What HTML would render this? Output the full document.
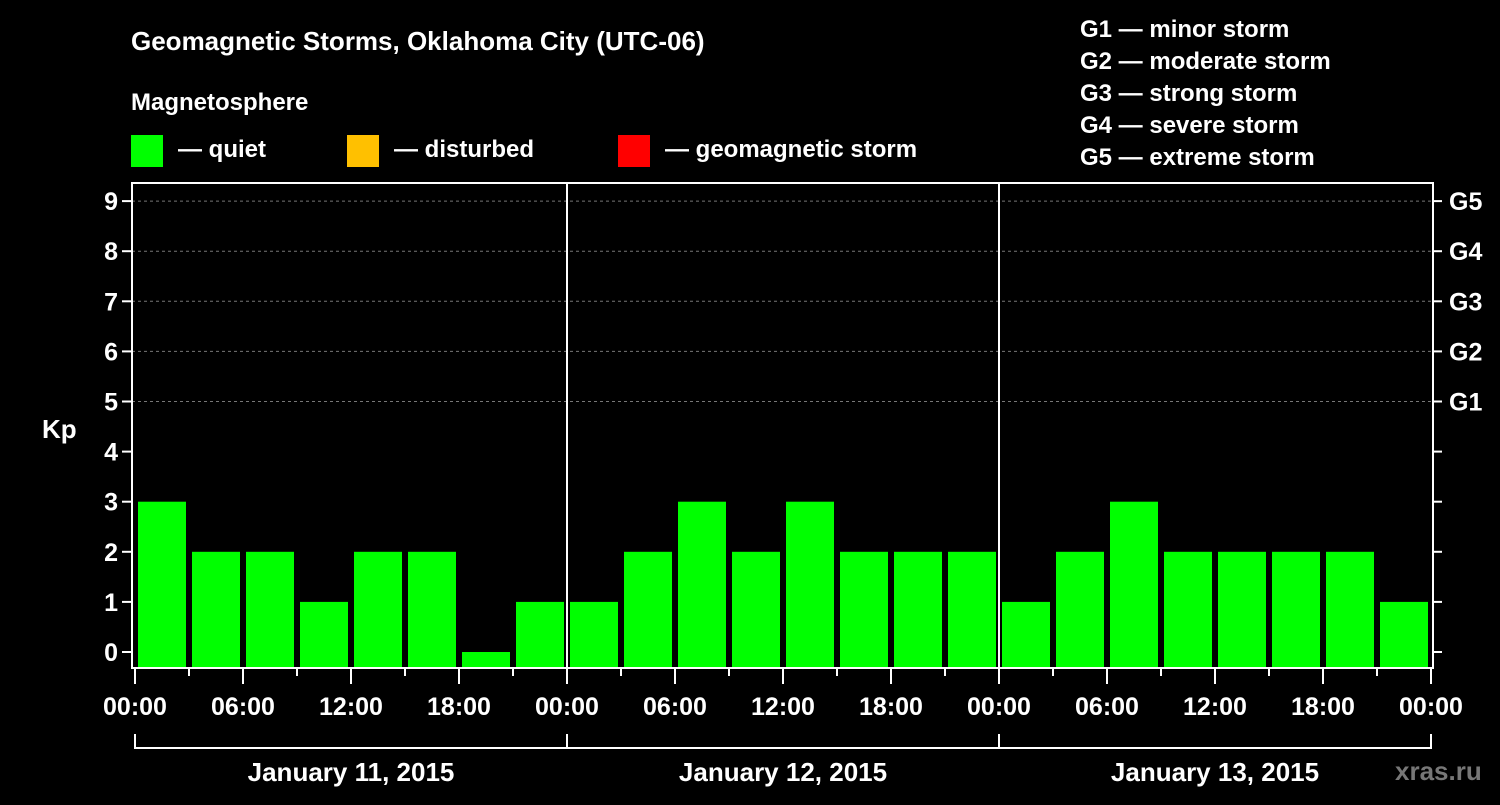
<!DOCTYPE html>
<html><head><meta charset="utf-8"><style>
body{margin:0;background:#000;width:1500px;height:800px;overflow:hidden}
svg text{font-family:"Liberation Sans",Arial,sans-serif;font-weight:bold;fill:#fff}
</style></head><body>
<svg id="c" width="1500" height="800" xmlns="http://www.w3.org/2000/svg">
<text x="131" y="50" font-size="26">Geomagnetic Storms, Oklahoma City (UTC-06)</text>
<text x="131" y="110" font-size="24">Magnetosphere</text>
<rect x="131" y="135" width="32" height="32" fill="#00ff00"/>
<text x="178" y="157" font-size="24">— quiet</text>
<rect x="347" y="135" width="32" height="32" fill="#ffc000"/>
<text x="394" y="157" font-size="24">— disturbed</text>
<rect x="618" y="135" width="32" height="32" fill="#ff0000"/>
<text x="665" y="157" font-size="24">— geomagnetic storm</text>
<g font-size="24">
<text x="1080" y="37">G1 — minor storm</text>
<text x="1080" y="69">G2 — moderate storm</text>
<text x="1080" y="101">G3 — strong storm</text>
<text x="1080" y="133">G4 — severe storm</text>
<text x="1080" y="165">G5 — extreme storm</text>
</g>
<text x="42" y="438" font-size="26">Kp</text>
<text x="1395" y="780" font-size="26" fill="#888" style="fill:#777">xras.ru</text>
<g id="grid"></g><g id="bars"></g><g id="axes"></g>
</svg>
<script>
const kpValues=[3,2,2,1,2,2,0,1, 1,2,3,2,3,2,2,2, 1,2,3,2,2,2,2,1];
const yTicks=[0,1,2,3,4,5,6,7,8,9];
const gLabels=["G1","G2","G3","G4","G5"];
const xLabels=["00:00","06:00","12:00","18:00","00:00","06:00","12:00","18:00","00:00","06:00","12:00","18:00","00:00"];
const dayLabels=["January 11, 2015","January 12, 2015","January 13, 2015"];
const NS="http://www.w3.org/2000/svg";
const X0=135,SLOT=54,Y0=652,UNIT=50.1,BOT=668,TOP=183,L=132,R=1433;
const xs=i=>X0+i*SLOT, ys=v=>Y0-v*UNIT;
function mk(p,t,a){const e=document.createElementNS(NS,t);for(const k in a)e.setAttribute(k,a[k]);p.appendChild(e);return e;}
const grid=document.getElementById('grid'),bars=document.getElementById('bars'),axes=document.getElementById('axes');
yTicks.forEach(v=>{
 if(v>=5){const g=mk(grid,'line',{x1:L,x2:R,y1:ys(v),y2:ys(v),stroke:'#777','stroke-dasharray':'3,3'});
 
 }
 const t=mk(axes,'line',{x1:L-10,x2:L,y1:ys(v),y2:ys(v),stroke:'#fff','stroke-width':2});
 
 
 const t2=mk(axes,'line',{x1:R,x2:R+9,y1:ys(v),y2:ys(v),stroke:'#fff','stroke-width':2});
 
 
 const lb=mk(axes,'text',{x:L-14,y:ys(v)+9,'font-size':25,'text-anchor':'end'});lb.textContent=v;
 
 
});
gLabels.forEach((g,i)=>{const lb=mk(axes,'text',{x:1449,y:ys(5+i)+9,'font-size':25});lb.textContent=g;
 
 });
kpValues.forEach((v,i)=>{
 const col=v>=5?'#ff0000':v>=4?'#ffc000':'#00ff00';
 const b=mk(bars,'rect',{x:xs(i)+3,y:ys(v),width:SLOT-6,height:Math.max(0,BOT-1-ys(v)),fill:col});
 
 
});
mk(axes,'rect',{x:L,y:TOP,width:R-L,height:BOT-TOP,fill:'none',stroke:'#fff','stroke-width':2});
[8,16].forEach(i=>{const d=mk(axes,'line',{x1:xs(i),x2:xs(i),y1:TOP,y2:BOT,stroke:'#fff','stroke-width':2});
 
 });
for(let i=0;i<=24;i++){const t=mk(axes,'line',{x1:xs(i),x2:xs(i),y1:BOT,y2:BOT+(i%2?8:16),stroke:'#fff','stroke-width':2});
 
 }
xLabels.forEach((s,i)=>{const lb=mk(axes,'text',{x:xs(i*2),y:715,'font-size':25,'text-anchor':'middle'});lb.textContent=s;
 
 });
dayLabels.forEach((s,d)=>{
 const p=mk(axes,'path',{d:`M${xs(d*8)} 734 V748 H${xs(d*8+8)} V734`,fill:'none',stroke:'#fff','stroke-width':2});
 
 
 const lb=mk(axes,'text',{x:(xs(d*8)+xs(d*8+8))/2,y:781,'font-size':26,'text-anchor':'middle'});lb.textContent=s;
 
 
});
</script>
</body></html>
